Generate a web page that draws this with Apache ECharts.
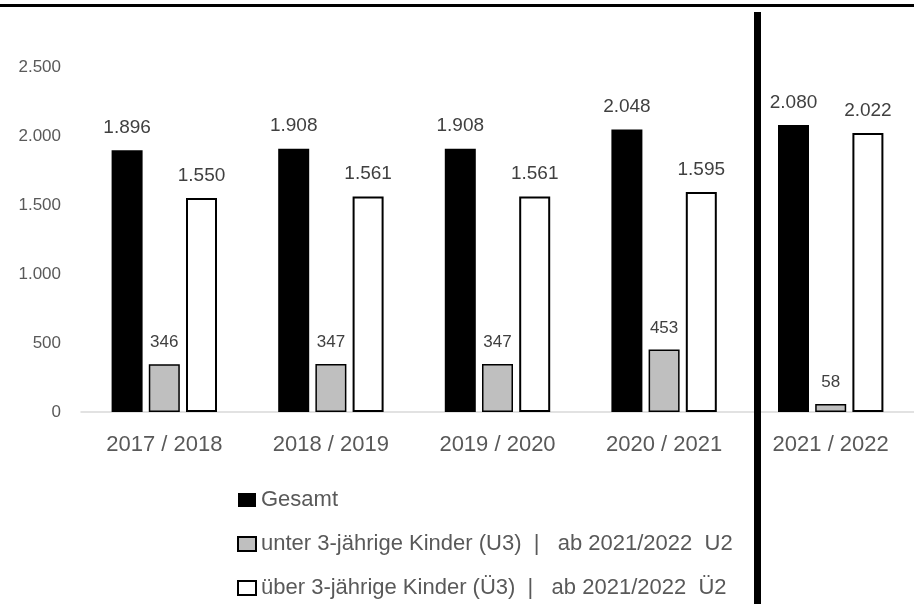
<!DOCTYPE html>
<html>
<head>
<meta charset="utf-8">
<script src="https://cdn.jsdelivr.net/npm/echarts@6/dist/echarts.min.js"></script>
<style>
  html, body { margin: 0; padding: 0; background: #fff; }
  #chart { width: 914px; height: 604px; }
</style>
</head>
<body>
<div id="chart"></div>
<script>
// Daten
var categories = ["2017 / 2018", "2018 / 2019", "2019 / 2020", "2020 / 2021", "2021 / 2022"]
var gesamt = [1896, 1908, 1908, 2048, 2080]
var unter3 = [346, 347, 347, 453, 58]
var ueber3 = [1550, 1561, 1561, 1595, 2022]
var seriesNames = [
  "Gesamt",
  "unter 3-jährige Kinder (U3)  |   ab 2021/2022  U2",
  "über 3-jährige Kinder (Ü3)  |   ab 2021/2022  Ü2"
]

var FONT = '"Liberation Sans", Arial, sans-serif'

// 1896 -> "1.896"
function fmt(v) {
  return String(v).replace(/\B(?=(\d{3})+(?!\d))/g, ".")
}

var chart = echarts.init(document.getElementById("chart"))

var option = {
  animation: false,
  backgroundColor: "#fff",
  grid: {
    left: 81,
    top: 67,
    width: 847,
    height: 345
  },
  xAxis: {
    type: "category",
    data: categories,
    axisLine: { lineStyle: { color: "#d9d9d9", width: 1.5 } },
    axisTick: { show: false },
    axisLabel: {
      interval: 0,
      color: "#595959",
      fontFamily: FONT,
      fontSize: 22,
      margin: 22
    }
  },
  yAxis: {
    type: "value",
    min: 0,
    max: 2500,
    interval: 500,
    axisLine: { show: false },
    axisTick: { show: false },
    splitLine: { show: false },
    axisLabel: {
      color: "#595959",
      fontFamily: FONT,
      fontSize: 17,
      margin: 20,
      formatter: fmt
    }
  },
  legend: {
    orient: "vertical",
    left: 237,
    top: 489,
    padding: 0,
    itemWidth: 18,
    itemHeight: 14,
    itemGap: 22,
    icon: "rect",
    textStyle: {
      color: "#595959",
      fontFamily: FONT,
      fontSize: 22
    },
    data: seriesNames
  },
  series: [
    {
      name: seriesNames[0],
      type: "bar",
      data: gesamt,
      barWidth: 31,
      barGap: "20%",
      itemStyle: { color: "#000" },
      label: {
        show: true,
        position: "top",
        distance: 13,
        color: "#404040",
        fontFamily: FONT,
        fontSize: 19,
        formatter: function (p) { return fmt(p.value) }
      }
    },
    {
      name: seriesNames[1],
      type: "bar",
      data: unter3,
      barWidth: 31,
      barGap: "20%",
      itemStyle: { color: "#bfbfbf", borderColor: "#000", borderWidth: 1.5 },
      label: {
        show: true,
        position: "top",
        distance: 13,
        color: "#404040",
        fontFamily: FONT,
        fontSize: 17,
        formatter: function (p) { return fmt(p.value) }
      }
    },
    {
      name: seriesNames[2],
      type: "bar",
      data: ueber3,
      barWidth: 31,
      barGap: "20%",
      itemStyle: { color: "#fff", borderColor: "#000", borderWidth: 2 },
      label: {
        show: true,
        position: "top",
        distance: 13,
        color: "#404040",
        fontFamily: FONT,
        fontSize: 19,
        formatter: function (p) { return fmt(p.value) }
      }
    }
  ],
  // Rahmenlinie oben und Trennstrich vor 2021/2022
  graphic: [
    {
      type: "rect",
      shape: { x: 0, y: 4, width: 914, height: 3 },
      style: { fill: "#000" },
      silent: true
    },
    {
      type: "rect",
      shape: { x: 754, y: 12, width: 7, height: 592 },
      style: { fill: "#000" },
      silent: true,
      z: 100
    }
  ]
}

chart.setOption(option)
</script>
</body>
</html>
